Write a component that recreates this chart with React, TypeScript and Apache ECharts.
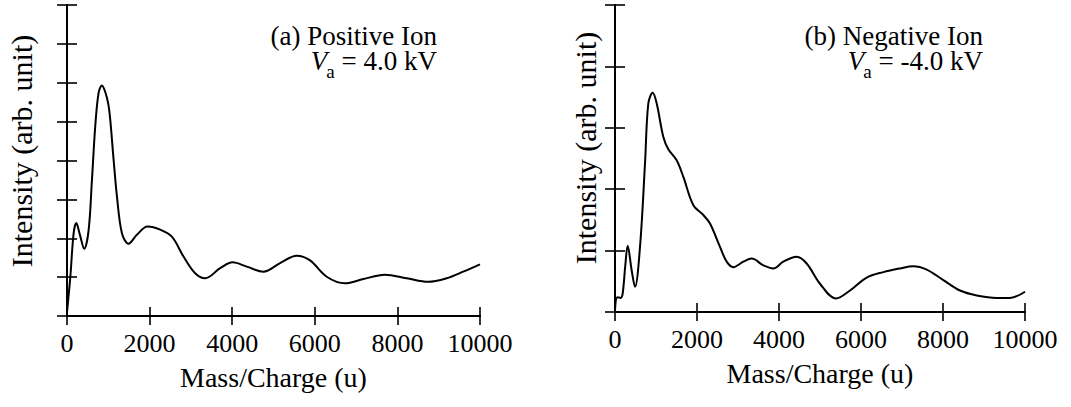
import React, { useEffect, useRef } from 'react';
import * as echarts from 'echarts';

// ---- data ----
const massMin = 0;
const massMax = 10000;
const massStep = 2000;

const posMass = [0, 80, 161, 225, 310, 418, 523, 604, 684, 765, 846, 930, 1000, 1047, 1130, 1209, 1330, 1490, 1693, 1950, 2256, 2539, 2821, 3103, 3345, 3708, 4010, 4353, 4755, 5159, 5562, 5884, 6288, 6731, 7174, 7698, 8222, 8746, 9190, 9593, 10000];
const posIntensity = [0.1, 1.0, 2.13, 2.39, 2.1, 1.73, 2.2, 3.5, 4.88, 5.74, 5.93, 5.75, 5.45, 5.05, 4.0, 3.08, 2.13, 1.86, 2.09, 2.3, 2.22, 2.04, 1.53, 1.1, 0.97, 1.23, 1.38, 1.27, 1.14, 1.36, 1.55, 1.43, 1.01, 0.84, 0.95, 1.06, 0.97, 0.88, 0.97, 1.14, 1.33];

const negMass = [0, 57, 138, 187, 250, 309, 406, 488, 610, 732, 813, 919, 1016, 1179, 1301, 1504, 1667, 1911, 2154, 2317, 2561, 2724, 2886, 3130, 3333, 3618, 3862, 4106, 4431, 4675, 5000, 5390, 5732, 6138, 6545, 6951, 7276, 7602, 8008, 8415, 8822, 9309, 9634, 10000];
const negIntensity = [0.03, 0.24, 0.23, 0.3, 0.75, 1.08, 0.68, 0.41, 1.06, 2.42, 3.4, 3.57, 3.4, 2.85, 2.65, 2.47, 2.2, 1.74, 1.58, 1.44, 1.06, 0.82, 0.73, 0.82, 0.87, 0.76, 0.71, 0.82, 0.9, 0.79, 0.46, 0.22, 0.35, 0.56, 0.65, 0.71, 0.745, 0.69, 0.52, 0.35, 0.27, 0.23, 0.23, 0.33];

const posYMax = 8;
const negYMax = 5;

const panelTitles = ['(a) Positive Ion', '(b) Negative Ion'];
const voltSymbol = 'V';
const voltSub = 'a';
const voltages = ['4.0 kV', '-4.0 kV'];
const xName = 'Mass/Charge (u)';
const yName = 'Intensity (arb. unit)';

const FONT = 'Liberation Serif';

function pairs(xs: number[], ys: number[]) {
  return xs.map((x, i) => [x, ys[i]]);
}

function measure(text: string, font: string) {
  const ctx = document.createElement('canvas').getContext('2d');
  if (!ctx) return text.length * 12;
  ctx.font = font;
  return ctx.measureText(text).width;
}

function buildOption() {
  const grids = [
    { left: 67, top: 5, width: 413, height: 311 },
    { left: 615, top: 5, width: 410, height: 307 },
  ];
  const yMaxes = [posYMax, negYMax];
  const axisLine = { show: true, lineStyle: { color: '#000', width: 1.9 } };
  const tickStyle = { color: '#000', width: 1.6 };
  const xAxis: any[] = [];
  const yAxis: any[] = [];
  grids.forEach((_, gi) => {
    xAxis.push({
      type: 'value', gridIndex: gi, position: 'bottom',
      min: massMin, max: massMax, interval: massStep,
      axisLine,
      axisTick: { show: true, inside: true, length: 9, lineStyle: tickStyle },
      axisLabel: {
        show: true, color: '#000', fontSize: 26, fontFamily: FONT, margin: 14,
        formatter: (v: number) => String(v),
      },
      splitLine: { show: false },
      name: xName, nameLocation: 'middle', nameGap: 47,
      nameTextStyle: { color: '#000', fontSize: 28, fontFamily: FONT },
    });
    xAxis.push({
      type: 'value', gridIndex: gi, position: 'top',
      min: massMin, max: massMax, interval: massStep,
      axisLine,
      axisTick: { show: true, inside: true, length: 9, lineStyle: tickStyle },
      axisLabel: { show: false },
      splitLine: { show: false },
    });
    yAxis.push({
      type: 'value', gridIndex: gi, position: 'left',
      min: 0, max: yMaxes[gi], interval: 1,
      axisLine,
      axisTick: { show: true, inside: true, length: 10, lineStyle: tickStyle },
      axisLabel: { show: false },
      splitLine: { show: false },
    });
    yAxis.push({
      type: 'value', gridIndex: gi, position: 'right',
      min: 0, max: yMaxes[gi], interval: 1,
      axisLine,
      axisTick: { show: true, inside: true, length: 10, lineStyle: tickStyle },
      axisLabel: { show: false },
      splitLine: { show: false },
    });
  });

  const lineSeries = (data: number[][], gi: number) => ({
    type: 'line',
    xAxisIndex: gi * 2,
    yAxisIndex: gi * 2,
    data,
    showSymbol: false,
    smooth: 0.35,
    lineStyle: { color: '#000', width: 2 },
    silent: true,
  });

  const mainSize = 27;
  const subSize = 19;
  const annotation = (rightX: number, title: string, volt: string) => {
    const rest = ` = ${volt}`;
    const wRest = measure(rest, `${mainSize}px ${FONT}`);
    const wSub = measure(voltSub, `${subSize}px ${FONT}`);
    return [
      {
        type: 'text', x: rightX, y: 36,
        style: { text: title, align: 'right', verticalAlign: 'middle', fontSize: mainSize, lineHeight: 23, fontFamily: FONT, fill: '#000' },
      },
      {
        type: 'text', x: rightX, y: 61,
        style: { text: rest, align: 'right', verticalAlign: 'middle', fontSize: mainSize, lineHeight: 23, fontFamily: FONT, fill: '#000' },
      },
      {
        type: 'text', x: rightX - wRest, y: 71,
        style: { text: voltSub, align: 'right', verticalAlign: 'middle', fontSize: subSize, lineHeight: 16, fontFamily: FONT, fill: '#000' },
      },
      {
        type: 'text', x: rightX - wRest - wSub + 1, y: 61,
        style: { text: voltSymbol, align: 'right', verticalAlign: 'middle', fontSize: mainSize, lineHeight: 23, fontStyle: 'italic', fontFamily: FONT, fill: '#000' },
      },
    ];
  };

  const yLabel = (cx: number, cy: number) => ({
    type: 'text', x: cx, y: cy, rotation: Math.PI / 2,
    style: { text: yName, align: 'center', verticalAlign: 'middle', fontSize: 30, fontFamily: FONT, fill: '#000' },
  });

  return {
    animation: false,
    backgroundColor: '#fff',
    grid: grids,
    xAxis,
    yAxis,
    series: [lineSeries(pairs(posMass, posIntensity), 0), lineSeries(pairs(negMass, negIntensity), 1)],
    graphic: [
      ...annotation(437, panelTitles[0], voltages[0]),
      ...annotation(983, panelTitles[1], voltages[1]),
      yLabel(21, 151),
      yLabel(585, 148),
    ],
  };
}

export default function App() {
  const ref = useRef<HTMLDivElement>(null);
  useEffect(() => {
    if (!ref.current) return;
    const chart = echarts.init(ref.current, undefined, { renderer: 'svg' });
    chart.setOption(buildOption() as any);
    return () => chart.dispose();
  }, []);
  return (
    <div
      ref={ref}
      style={{ position: 'fixed', left: 0, top: 0, width: 1071, height: 407, background: '#fff' }}
    />
  );
}
